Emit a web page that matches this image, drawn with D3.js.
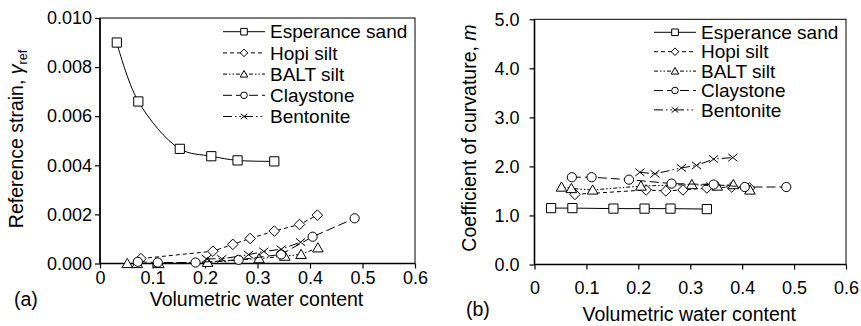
<!DOCTYPE html>
<html>
<head>
<meta charset="utf-8">
<style>
body { margin: 0; background: #fff; }
svg { font-family: "Liberation Sans", Arial, sans-serif; }
.axis .domain { display: none; }
.axis line { stroke: #000; stroke-width: 1.2; }
.axis text { fill: #000; }
</style>
</head>
<body>
<svg width="861" height="326" id="chart"></svg>
<script src="https://d3js.org/d3.v7.min.js"></script>
<script>
// series names
var seriesNames = ["Esperance sand", "Hopi silt", "BALT silt", "Claystone", "Bentonite"];

// volumetric water content of each test
var esperX = [0.032, 0.073, 0.152, 0.212, 0.262, 0.332];
var hopiX  = [0.078, 0.215, 0.253, 0.286, 0.332, 0.380, 0.414];
var baltX  = [0.052, 0.071, 0.112, 0.205, 0.303, 0.352, 0.383, 0.415];
var clayX  = [0.072, 0.110, 0.182, 0.264, 0.345, 0.405, 0.485];
var bentX  = [0.203, 0.232, 0.283, 0.312, 0.345, 0.382];

// (a) reference strain
var esperRef = [0.0090, 0.0066, 0.00467, 0.00437, 0.00420, 0.00416];
var hopiRef  = [0.00020, 0.00050, 0.00078, 0.00102, 0.00132, 0.00159, 0.00197];
var baltRef  = [0.0, 0.0, 0.0, 0.00005, 0.00020, 0.00030, 0.00037, 0.00064];
var clayRef  = [0.00007, 0.00004, 0.00004, 0.00015, 0.00037, 0.00109, 0.00184];
var bentRef  = [0.00019, 0.00019, 0.00036, 0.00049, 0.00058, 0.00087];

// (b) coefficient of curvature m
var esperM = [1.15, 1.15, 1.14, 1.14, 1.14, 1.13];
var hopiM  = [1.43, 1.52, 1.50, 1.52, 1.56, 1.58, 1.56];
var baltM  = [1.58, 1.55, 1.52, 1.60, 1.63, 1.60, 1.63, 1.52];
var clayM  = [1.78, 1.78, 1.73, 1.65, 1.63, 1.58, 1.58];
var bentM  = [1.88, 1.85, 1.97, 2.02, 2.15, 2.18];

// tick values
var xTicks = [0, 0.1, 0.2, 0.3, 0.4, 0.5, 0.6];
var refTicks = [0, 0.002, 0.004, 0.006, 0.008, 0.010];
var mTicks = [0, 1, 2, 3, 4, 5];

var styles = [
  {marker: "square",   dash: null,                 smooth: true},
  {marker: "diamond",  dash: "4,3"},
  {marker: "triangle", dash: "4,2,1.5,2,1.5,2"},
  {marker: "circle",   dash: "9,4"},
  {marker: "cross",    dash: "9,3,1.5,3,1.5,3"}
];

function markerPath(type, s) {
  var p = d3.path();
  if (type == "square") {
    p.rect(-s, -s, 2 * s, 2 * s);
  } else if (type == "diamond") {
    var d = s * 1.15;
    p.moveTo(0, -d); p.lineTo(d, 0); p.lineTo(0, d); p.lineTo(-d, 0); p.closePath();
  } else if (type == "triangle") {
    var w = s * 1.15;
    p.moveTo(0, -s * 1.1); p.lineTo(w, s * 0.9); p.lineTo(-w, s * 0.9); p.closePath();
  } else if (type == "circle") {
    p.moveTo(s, 0); p.arc(0, 0, s, 0, 2 * Math.PI);
  } else {
    p.moveTo(-s, -s * 0.8); p.lineTo(s, s * 0.8);
    p.moveTo(s, -s * 0.8); p.lineTo(-s, s * 0.8);
  }
  return p.toString();
}

var svg = d3.select("#chart");

function drawPanel(cfg) {
  var x = d3.scaleLinear().domain([0, 0.6]).range([cfg.left, cfg.right]);
  var y = d3.scaleLinear().domain(cfg.yDomain).range([cfg.bottom, cfg.top]);
  var g = svg.append("g");

  // frame
  g.append("rect")
    .attr("x", cfg.left).attr("y", cfg.top)
    .attr("width", cfg.right - cfg.left).attr("height", cfg.bottom - cfg.top)
    .attr("fill", "none").attr("stroke", "#000").attr("stroke-width", 1);
  g.append("line")
    .attr("x1", cfg.left).attr("x2", cfg.left).attr("y1", cfg.top).attr("y2", cfg.bottom)
    .attr("stroke", "#000").attr("stroke-width", 1.6);
  g.append("line")
    .attr("x1", cfg.left).attr("x2", cfg.right).attr("y1", cfg.bottom).attr("y2", cfg.bottom)
    .attr("stroke", "#000").attr("stroke-width", 1.6);

  g.append("g")
    .attr("class", "axis")
    .attr("transform", "translate(0," + cfg.bottom + ")")
    .call(d3.axisBottom(x).tickValues(xTicks).tickSize(5).tickSizeOuter(0).tickPadding(cfg.xPad)
      .tickFormat(function(d) { return d === 0 ? "0" : d.toFixed(1); }))
    .attr("font-size", 18)
    .attr("font-family", null);

  g.append("g")
    .attr("class", "axis")
    .attr("transform", "translate(" + cfg.left + ",0)")
    .call(d3.axisLeft(y).tickValues(cfg.yTicks).tickSize(5).tickSizeOuter(0).tickPadding(cfg.yPad)
      .tickFormat(cfg.yFormat))
    .attr("font-size", 18)
    .attr("font-family", null);

  // series
  cfg.series.forEach(function(s, i) {
    var st = styles[i];
    var pts = s.x.map(function(v, j) { return [v, s.y[j]]; });
    var line = d3.line()
      .x(function(d) { return x(d[0]); })
      .y(function(d) { return y(d[1]); })
      .curve(st.smooth && cfg.smooth ? d3.curveCatmullRom.alpha(0.5) : d3.curveLinear);
    g.append("path")
      .attr("d", line(pts))
      .attr("fill", "none").attr("stroke", "#000").attr("stroke-width", 1)
      .attr("stroke-dasharray", st.dash);
    g.selectAll(null).data(pts).enter().append("path")
      .attr("transform", function(d) { return "translate(" + x(d[0]) + "," + y(d[1]) + ")"; })
      .attr("d", markerPath(st.marker, 4.6))
      .attr("fill", st.marker == "cross" ? "none" : "#fff")
      .attr("stroke", "#000").attr("stroke-width", 1);
  });

  // legend
  var lg = g.append("g").selectAll("g").data(seriesNames).enter().append("g")
    .attr("transform", function(d, i) { return "translate(0," + (cfg.legY + i * cfg.legStep) + ")"; });
  lg.append("line")
    .attr("x1", cfg.legX).attr("x2", cfg.legX + 42)
    .attr("stroke", "#000").attr("stroke-width", 1)
    .attr("stroke-dasharray", function(d, i) { return styles[i].dash; });
  lg.append("path")
    .attr("transform", "translate(" + (cfg.legX + 21) + ",0)")
    .attr("d", function(d, i) { return markerPath(styles[i].marker, 3.3); })
    .attr("fill", function(d, i) { return styles[i].marker == "cross" ? "none" : "#fff"; })
    .attr("stroke", "#000").attr("stroke-width", 1);
  lg.append("text")
    .attr("x", cfg.legX + 47)
    .attr("dy", "0.35em")
    .attr("font-size", 19)
    .text(function(d) { return d; });

  // axis titles
  g.append("text")
    .attr("x", (cfg.left + cfg.right) / 2 - 1).attr("y", cfg.xTitleY)
    .attr("text-anchor", "middle").attr("font-size", 19.5)
    .text("Volumetric water content");
  g.append("text")
    .attr("x", cfg.panelX).attr("y", cfg.panelY)
    .attr("font-size", 19.5)
    .text(cfg.panel);
  var yt = g.append("text")
    .attr("transform", "translate(" + cfg.yTitleX + "," + cfg.yTitleY + ") rotate(-90)")
    .attr("text-anchor", "middle").attr("font-size", 19.5);
  cfg.yTitle(yt);
}

drawPanel({
  left: 100, right: 415, top: 18, bottom: 263.5,
  yDomain: [0, 0.010], yTicks: refTicks,
  yFormat: function(d) { return d.toFixed(3); },
  xPad: 3, yPad: 3, smooth: true,
  series: [
    {x: esperX, y: esperRef}, {x: hopiX, y: hopiRef}, {x: baltX, y: baltRef},
    {x: clayX, y: clayRef}, {x: bentX, y: bentRef}
  ],
  legX: 223, legY: 31.7, legStep: 21.2,
  xTitleY: 306, panel: "(a)", panelX: 14, panelY: 306,
  yTitleX: 23, yTitleY: 139,
  yTitle: function(t) {
    t.append("tspan").text("Reference strain, ");
    t.append("tspan").attr("font-style", "italic").text("\u03b3");
    t.append("tspan").attr("font-size", 12.5).attr("dy", 4).text("ref");
  }
});

drawPanel({
  left: 534.5, right: 846, top: 19.3, bottom: 264.5,
  yDomain: [0, 5], yTicks: mTicks,
  yFormat: function(d) { return d.toFixed(1); },
  xPad: 12, yPad: 10, smooth: false,
  series: [
    {x: esperX, y: esperM}, {x: hopiX, y: hopiM}, {x: baltX, y: baltM},
    {x: clayX, y: clayM}, {x: bentX, y: bentM}
  ],
  legX: 654, legY: 32.3, legStep: 19.4,
  xTitleY: 321, panel: "(b)", panelX: 466, panelY: 316,
  yTitleX: 476, yTitleY: 138,
  yTitle: function(t) {
    t.append("tspan").text("Coefficient of curvature, ");
    t.append("tspan").attr("font-style", "italic").text("m");
  }
});
</script>
</body>
</html>
